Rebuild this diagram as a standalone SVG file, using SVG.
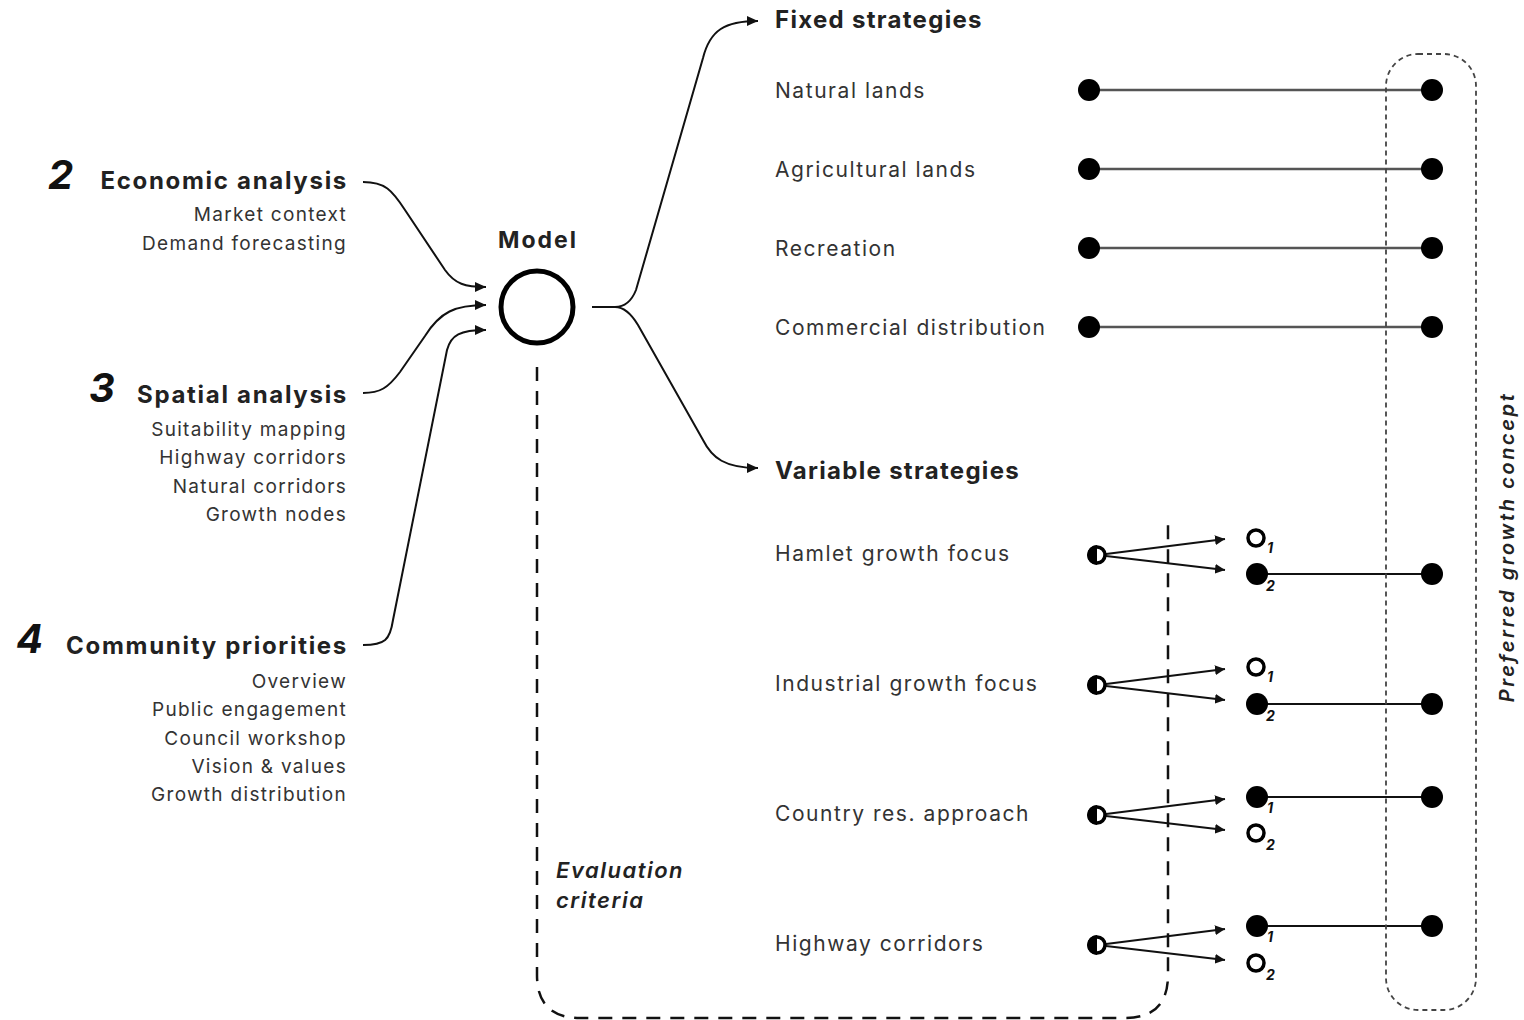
<svg xmlns="http://www.w3.org/2000/svg" width="1524" height="1020" viewBox="0 0 1524 1020">
<defs>
<marker id="ah" markerUnits="userSpaceOnUse" markerWidth="12" markerHeight="10" refX="11" refY="5" orient="auto">
<path d="M0,0 L11,5 L0,10 z" fill="#111"/>
</marker>
<marker id="ahs" markerUnits="userSpaceOnUse" markerWidth="11" markerHeight="10" refX="10" refY="5" orient="auto">
<path d="M0,0 L10,5 L0,10 z" fill="#111"/>
</marker>
</defs>
<style>
text{font-family:Inter,"Liberation Sans",sans-serif;fill:#222}
.num{font-size:40px;font-weight:700;font-style:italic;fill:#111}
.head{font-size:24px;font-weight:700;fill:#222;letter-spacing:1.3px}
.lhead{font-size:24px;font-weight:700;fill:#222;letter-spacing:1.7px;text-anchor:end}
.sub{font-size:19px;fill:#333;text-anchor:end;letter-spacing:1.3px}
.item{font-size:21px;fill:#333;letter-spacing:1.55px}
.ital{font-size:22px;font-style:italic;font-weight:600;fill:#222;letter-spacing:1.5px}
.idx{font-size:14px;font-style:italic;font-weight:700;fill:#111}
.conn{fill:none;stroke:#111;stroke-width:2}
.bar{stroke:#555;stroke-width:2.6}
.vbar{stroke:#111;stroke-width:2}
.dot{fill:#000}
.hollow{fill:#fff;stroke:#000;stroke-width:3.5}
.eval{fill:none;stroke:#111;stroke-width:2.5;stroke-dasharray:14 10}
.pref{fill:none;stroke:#444;stroke-width:1.8;stroke-dasharray:5 4}
</style>
<rect width="1524" height="1020" fill="#fff"/>

<g id="connectors">
<path class="conn" marker-end="url(#ah)" d="M363,182 C385,182 392,190 405,210 L445,270 C455,284 465,287 486,287"/>
<path class="conn" marker-end="url(#ah)" d="M363,393 C380,393 388,388 400,372 L425,336 C440,312 455,305 486,305"/>
<path class="conn" marker-end="url(#ah)" d="M363,645 C385,645 390,640 393,620 L447,350 C451,335 460,330 486,330"/>
<path class="conn" marker-end="url(#ah)" d="M592,307 L615,307 C625,307 632,300 636,290 L703,58 C710,30 725,21 758,21"/>
<path class="conn" marker-end="url(#ah)" d="M615,307 C625,307 632,315 638,325 L703,440 C712,458 725,468 758,468"/>
<path class="eval" d="M537,367 L537,975 Q537,1018 580,1018 L1125,1018 Q1168,1018 1168,975 L1168,522"/>
<g class="var-arrows">
<path class="conn" marker-end="url(#ahs)" d="M1106,554 L1225,539"/>
<path class="conn" marker-end="url(#ahs)" d="M1106,556 L1225,570"/>
<path class="conn" marker-end="url(#ahs)" d="M1106,684 L1225,669"/>
<path class="conn" marker-end="url(#ahs)" d="M1106,686 L1225,700"/>
<path class="conn" marker-end="url(#ahs)" d="M1106,814 L1225,799"/>
<path class="conn" marker-end="url(#ahs)" d="M1106,816 L1225,830"/>
<path class="conn" marker-end="url(#ahs)" d="M1106,944 L1225,929"/>
<path class="conn" marker-end="url(#ahs)" d="M1106,946 L1225,960"/>
</g>
</g>

<g id="economic">
<text class="num" x="48" y="189">2</text>
<text class="lhead" x="348" y="189">Economic analysis</text>
<text class="sub" x="347" y="221">Market context</text>
<text class="sub" x="347" y="250">Demand forecasting</text>
</g>
<g id="spatial">
<text class="num" x="89" y="402">3</text>
<text class="lhead" x="348" y="403">Spatial analysis</text>
<text class="sub" x="347" y="436">Suitability mapping</text>
<text class="sub" x="347" y="464">Highway corridors</text>
<text class="sub" x="347" y="493">Natural corridors</text>
<text class="sub" x="347" y="521">Growth nodes</text>
</g>
<g id="community">
<text class="num" x="16" y="653">4</text>
<text class="lhead" x="348" y="654">Community priorities</text>
<text class="sub" x="347" y="688">Overview</text>
<text class="sub" x="347" y="716">Public engagement</text>
<text class="sub" x="347" y="745">Council workshop</text>
<text class="sub" x="347" y="773">Vision &amp; values</text>
<text class="sub" x="347" y="801">Growth distribution</text>
</g>

<g id="model">
<text x="538" y="248" text-anchor="middle" style="font-size:23px;font-weight:700;fill:#222;letter-spacing:2px">Model</text>
<circle cx="537" cy="307" r="36" fill="none" stroke="#000" stroke-width="5"/>
</g>

<g id="evaluation">
<text class="ital" x="556" y="878">Evaluation</text>
<text class="ital" x="556" y="908">criteria</text>
</g>

<g id="fixed-strategies">
<text class="head" x="775" y="28">Fixed strategies</text>
<text class="item" x="775" y="98">Natural lands</text>
<text class="item" x="775" y="177">Agricultural lands</text>
<text class="item" x="775" y="256">Recreation</text>
<text class="item" x="775" y="335">Commercial distribution</text>
<line class="bar" x1="1089" y1="90" x2="1432" y2="90"/>
<line class="bar" x1="1089" y1="169" x2="1432" y2="169"/>
<line class="bar" x1="1089" y1="248" x2="1432" y2="248"/>
<line class="bar" x1="1089" y1="327" x2="1432" y2="327"/>
<circle class="dot" cx="1089" cy="90" r="11"/><circle class="dot" cx="1432" cy="90" r="11"/>
<circle class="dot" cx="1089" cy="169" r="11"/><circle class="dot" cx="1432" cy="169" r="11"/>
<circle class="dot" cx="1089" cy="248" r="11"/><circle class="dot" cx="1432" cy="248" r="11"/>
<circle class="dot" cx="1089" cy="327" r="11"/><circle class="dot" cx="1432" cy="327" r="11"/>
</g>

<g id="variable-strategies">
<text class="head" x="775" y="479">Variable strategies</text>
</g>

<g id="hamlet">
<text class="item" x="775" y="561">Hamlet growth focus</text>
<circle class="hollow" cx="1097" cy="555" r="8"/>
<path d="M1097,545 A10,10 0 0 0 1097,565 z" fill="#000"/>
<circle class="hollow" cx="1256" cy="538" r="8"/>
<text class="idx" x="1267" y="553">1</text>
<line class="vbar" x1="1257" y1="574" x2="1432" y2="574"/>
<circle class="dot" cx="1257" cy="574" r="11"/>
<text class="idx" x="1266" y="591">2</text>
<circle class="dot" cx="1432" cy="574" r="11"/>
</g>

<g id="industrial">
<text class="item" x="775" y="691">Industrial growth focus</text>
<circle class="hollow" cx="1097" cy="685" r="8"/>
<path d="M1097,675 A10,10 0 0 0 1097,695 z" fill="#000"/>
<circle class="hollow" cx="1256" cy="667" r="8"/>
<text class="idx" x="1267" y="682">1</text>
<line class="vbar" x1="1257" y1="704" x2="1432" y2="704"/>
<circle class="dot" cx="1257" cy="704" r="11"/>
<text class="idx" x="1266" y="721">2</text>
<circle class="dot" cx="1432" cy="704" r="11"/>
</g>

<g id="country">
<text class="item" x="775" y="821">Country res. approach</text>
<circle class="hollow" cx="1097" cy="815" r="8"/>
<path d="M1097,805 A10,10 0 0 0 1097,825 z" fill="#000"/>
<line class="vbar" x1="1257" y1="797" x2="1432" y2="797"/>
<circle class="dot" cx="1257" cy="797" r="11"/>
<text class="idx" x="1267" y="813">1</text>
<circle class="hollow" cx="1256" cy="833" r="8"/>
<text class="idx" x="1266" y="850">2</text>
<circle class="dot" cx="1432" cy="797" r="11"/>
</g>

<g id="highway">
<text class="item" x="775" y="951">Highway corridors</text>
<circle class="hollow" cx="1097" cy="945" r="8"/>
<path d="M1097,935 A10,10 0 0 0 1097,955 z" fill="#000"/>
<line class="vbar" x1="1257" y1="926" x2="1432" y2="926"/>
<circle class="dot" cx="1257" cy="926" r="11"/>
<text class="idx" x="1267" y="942">1</text>
<circle class="hollow" cx="1256" cy="963" r="8"/>
<text class="idx" x="1266" y="980">2</text>
<circle class="dot" cx="1432" cy="926" r="11"/>
</g>

<g id="preferred">
<rect class="pref" x="1386" y="54" width="90" height="956" rx="32"/>
<text x="1514" y="547" text-anchor="middle" transform="rotate(-90 1514 547)" style="font-size:20px;font-style:italic;font-weight:600;fill:#222;letter-spacing:2.6px">Preferred growth concept</text>
</g>
</svg>
